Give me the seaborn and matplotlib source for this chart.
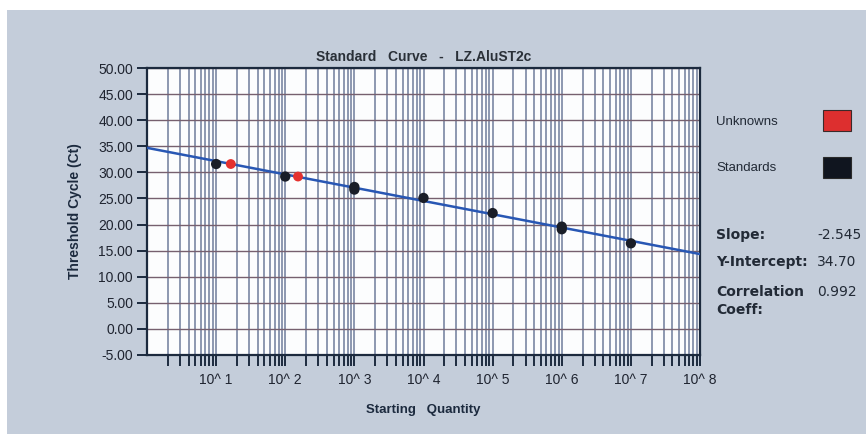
import numpy as np
import pandas as pd
import seaborn as sns
import matplotlib
matplotlib.use("Agg")
import matplotlib.pyplot as plt
from matplotlib.patches import Rectangle
from matplotlib.ticker import FixedLocator, FixedFormatter, NullFormatter

# ---- data ----
std_qty = [10, 100, 1000, 1000, 1e4, 1e5, 1e6, 1e6, 1e7]
std_ct = [31.6, 29.2, 27.2, 26.7, 25.1, 22.2, 19.6, 19.1, 16.4]
unk_qty = [16.3, 153]
unk_ct = [31.6, 29.2]
slope = -2.545
intercept = 34.70
correlation = 0.992
line_qty = [1, 1e8]
x_decades = [1, 2, 3, 4, 5, 6, 7, 8]
y_ticks = [-5, 0, 5, 10, 15, 20, 25, 30, 35, 40, 45, 50]

sns.set_style("white")
plt.rcParams['font.family'] = ['Liberation Sans', 'DejaVu Sans']

W, H = 866, 434
fig = plt.figure(figsize=(W / 100, H / 100), dpi=100)
fig.patch.set_facecolor("white")
bg = "#c4cdda"
fig.add_artist(Rectangle((7 / W, 0), 1 - 7 / W, 1 - 10 / H, transform=fig.transFigure,
                         facecolor=bg, edgecolor="none", zorder=-10))

ax = fig.add_axes([147 / W, 1 - 355 / H, (700 - 147) / W, (355 - 68) / H])
ax.set_facecolor("#fcfdfe")
ax.set_xscale("log")
ax.set_xlim(1, 1e8)
ax.set_ylim(-5, 50)

navy = "#1c2a3e"
# grid
ax.set_yticks(y_ticks)
ax.set_yticklabels([f"{v:.2f}" for v in y_ticks])
major = [10.0 ** d for d in x_decades]
ax.xaxis.set_major_locator(FixedLocator(major))
ax.xaxis.set_major_formatter(FixedFormatter([f"10^ {d}" for d in x_decades]))
minor = [m * 10.0 ** d for d in range(0, 8) for m in range(2, 10)]
ax.xaxis.set_minor_locator(FixedLocator(minor))
ax.xaxis.set_minor_formatter(NullFormatter())

for xv in minor + major:
    ax.axvline(xv, color="#6f7c9c", lw=1.1, zorder=1)
for yv in y_ticks:
    ax.axhline(yv, color="#76606f", lw=1.0, zorder=1)

# regression line
line_df = pd.DataFrame({"qty": line_qty,
                        "ct": [intercept + slope * np.log10(q) for q in line_qty]})
sns.lineplot(data=line_df, x="qty", y="ct", ax=ax, color="#2857b4", lw=1.8, zorder=3)

std_df = pd.DataFrame({"qty": std_qty, "ct": std_ct})
unk_df = pd.DataFrame({"qty": unk_qty, "ct": unk_ct})
sns.scatterplot(data=std_df, x="qty", y="ct", ax=ax, color="#1a1e28", s=55,
                edgecolor="none", zorder=4)
sns.scatterplot(data=unk_df, x="qty", y="ct", ax=ax, color="#e5312e", s=50,
                edgecolor="none", zorder=4)

ax.set_xlabel("Starting   Quantity", fontsize=9.5, fontweight="bold", color=navy, labelpad=12)
ax.set_ylabel("Threshold Cycle (Ct)", fontsize=10, fontweight="bold", color=navy, labelpad=12)
ax.set_title("Standard   Curve   -   LZ.AluST2c", fontsize=10, fontweight="bold",
             color="#2a3038", pad=5)

for s in ax.spines.values():
    s.set_color(navy)
    s.set_linewidth(1.6)
ax.tick_params(axis="y", which="major", direction="out", length=7, width=1.4,
               color=navy, labelsize=10, labelcolor="#1f2430", pad=3, left=True)
ax.tick_params(axis="x", which="both", direction="out", length=8, width=1.4,
               color=navy, labelsize=10, labelcolor="#1f2430", pad=5, bottom=True)
for lab in ax.get_xticklabels():
    lab.set_horizontalalignment("center")

# right-side legend and stats
def fx(px):
    return px / W

def fy(py):
    return 1 - py / H

tc = "#222a36"
fig.text(fx(716), fy(122), "Unknowns", fontsize=9.5, color=tc, va="center")
fig.text(fx(716), fy(168), "Standards", fontsize=9.5, color=tc, va="center")
fig.add_artist(Rectangle((fx(823), fy(131)), 28 / W, 21 / H, transform=fig.transFigure,
                         facecolor="#dd2f2f", edgecolor="#3a2a2a", lw=0.8))
fig.add_artist(Rectangle((fx(823), fy(178)), 28 / W, 21 / H, transform=fig.transFigure,
                         facecolor="#10151f", edgecolor="#2a2a2a", lw=0.8))

bl = dict(fontsize=10, fontweight="bold", color=tc, va="center", family="DejaVu Sans")
vl = dict(fontsize=10, color=tc, va="center", family="DejaVu Sans")
fig.text(fx(716), fy(235), "Slope:", **bl)
fig.text(fx(817), fy(235), f"{slope:.3f}", **vl)
fig.text(fx(716), fy(262), "Y-Intercept:", **bl)
fig.text(fx(817), fy(262), f"{intercept:.2f}", **vl)
fig.text(fx(716), fy(292), "Correlation", **bl)
fig.text(fx(716), fy(310), "Coeff:", **bl)
fig.text(fx(817), fy(292), f"{correlation:.3f}", **vl)

fig.savefig("out.png", dpi=100)
